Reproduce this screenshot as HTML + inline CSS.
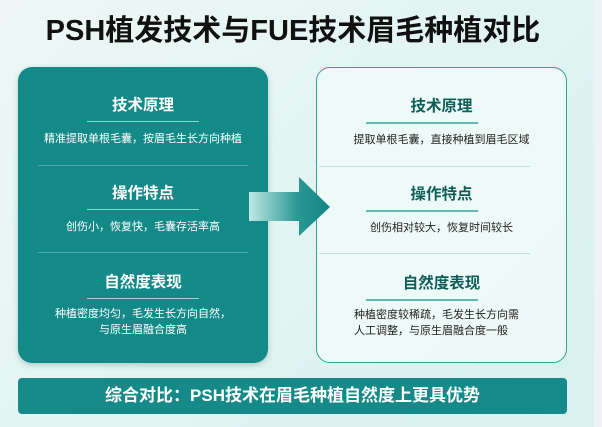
<!DOCTYPE html>
<html><head><meta charset="utf-8"><style>
*{margin:0;padding:0;box-sizing:border-box}
body{width:602px;height:427px;overflow:hidden;position:relative;font-family:"Liberation Sans","Noto Sans CJK SC",sans-serif;background:linear-gradient(135deg,#eef7f5 0%,#e2f4f2 50%,#d6f1ef 100%)}
.strip{position:absolute;left:594px;top:0;width:8px;height:427px;background:#eef1f8}
.title{position:absolute;left:0;width:586px;top:13px;text-align:center;font-size:29px;font-weight:bold;color:#111;line-height:36px}
.panel{position:absolute;top:67px;height:296px;border-radius:14px}
.lp{left:18px;width:250px;background:#148a88;color:#fff;box-shadow:0 2px 6px rgba(0,80,80,.25)}
.rp{left:316px;width:251px;background:rgba(240,250,248,.85);border:1.5px solid #3c9c98;color:#222}
.h{position:absolute;left:0;width:100%;text-align:center;font-size:15.5px;font-weight:bold;line-height:20px}
.rp .h{color:#0f5d58}
.ul{position:absolute;left:69px;width:112px;height:1px;background:rgba(255,255,255,.6)}
.rp .ul{background:#64b8b2;left:49px;width:112px;height:1.5px}
.t{position:absolute;left:0;width:100%;text-align:center;font-size:11px;line-height:16px}
.dv{position:absolute;left:20px;width:210px;height:1px;background:rgba(255,255,255,.25)}
.rp .dv{background:#bfe0dc;left:2px;width:211px}
.bar{position:absolute;left:18px;top:378px;width:549px;height:36px;background:#168a88;border-radius:4px;color:#fff;font-size:17px;font-weight:bold;text-align:center;line-height:36px}
</style></head><body>
<div class="strip"></div>
<div class="title">PSH植发技术与FUE技术眉毛种植对比</div>
<div class="panel lp">
 <div class="h" style="top:29px">技术原理</div>
 <div class="ul" style="top:54px"></div>
 <div class="t" style="top:64px">精准提取单根毛囊，按眉毛生长方向种植</div>
 <div class="dv" style="top:98px"></div>
 <div class="h" style="top:117px">操作特点</div>
 <div class="ul" style="top:142px"></div>
 <div class="t" style="top:152px">创伤小，恢复快，毛囊存活率高</div>
 <div class="dv" style="top:185px"></div>
 <div class="h" style="top:206px">自然度表现</div>
 <div class="ul" style="top:231px"></div>
 <div class="t" style="top:239px">种植密度均匀，毛发生长方向自然，<br>与原生眉融合度高</div>
</div>
<div class="panel rp">
 <div class="h" style="top:29px">技术原理</div>
 <div class="ul" style="top:54px"></div>
 <div class="t" style="top:64px">提取单根毛囊，直接种植到眉毛区域</div>
 <div class="dv" style="top:98px"></div>
 <div class="h" style="top:117px">操作特点</div>
 <div class="ul" style="top:142px"></div>
 <div class="t" style="top:152px">创伤相对较大，恢复时间较长</div>
 <div class="dv" style="top:185px"></div>
 <div class="h" style="top:206px">自然度表现</div>
 <div class="ul" style="top:231px"></div>
 <div class="t" style="top:239px;left:-2px;text-align:left;padding-left:39px">种植密度较稀疏，毛发生长方向需<br>人工调整，与原生眉融合度一般</div>
</div>
<svg style="position:absolute;left:0;top:0" width="602" height="427">
<defs><linearGradient id="g" x1="0" x2="1"><stop offset="0" stop-color="#bfe8e4"/><stop offset="0.6" stop-color="#2a9894"/><stop offset="1" stop-color="#138582"/></linearGradient></defs>
<polygon points="249,192 299,192 299,177 330,207 299,236 299,221 249,221" fill="url(#g)"/>
</svg>
<div class="bar">综合对比：PSH技术在眉毛种植自然度上更具优势</div>
</body></html>
